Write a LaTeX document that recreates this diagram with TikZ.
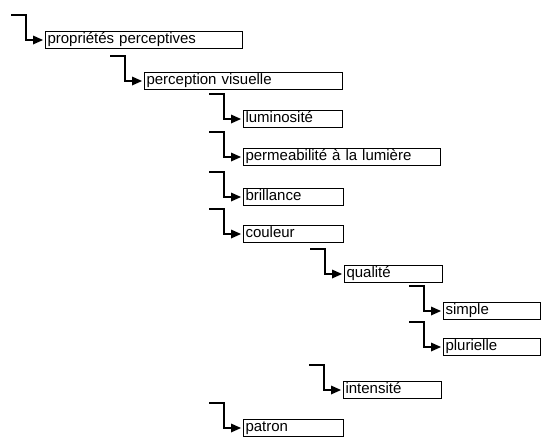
\documentclass[tikz,border=0pt]{standalone}
\usepackage{fontspec}
\setmainfont{Liberation Sans}

\begin{document}
\begin{tikzpicture}[x=1pt,y=1pt,
    box/.style={draw, rectangle, anchor=west, minimum height=17pt,
      inner xsep=2pt, inner ysep=0pt, text height=10pt, text depth=3pt,
      align=left, line width=1.1pt, font=\fontsize{15}{15}\selectfont},
    conn/.style={line width=1.6pt}]
  \useasboundingbox (0,0) rectangle (541,-437);
  % boxes
  \node[box, text width=193pt] (propr) at (45,-40)  {propriétés perceptives};
  \node[box, text width=194pt] (percv) at (144,-81) {perception visuelle};
  \node[box, text width=95pt]  (lumin) at (243,-119) {luminosité};
  \node[box, text width=193pt] (perme) at (243,-157) {permeabilité à la lumière};
  \node[box, text width=96pt]  (brill) at (243,-197) {brillance};
  \node[box, text width=96pt]  (coul)  at (243,-234) {couleur};
  \node[box, text width=94pt]  (qual)  at (344,-274) {qualité};
  \node[box, text width=93pt]  (simp)  at (443,-311) {simple};
  \node[box, text width=93pt]  (plur)  at (443,-347) {plurielle};
  \node[box, text width=94pt]  (inten) at (343,-390) {intensité};
  \node[box, text width=96pt]  (patr)  at (243,-428) {patron};
  % links
  \foreach \b in {propr, percv, lumin, perme, brill, coul, qual, simp, plur, inten, patr}
  {
    \coordinate (s\b) at ([shift={(-34pt,25pt)}]\b.west);
    \coordinate (k\b) at ([xshift=-19pt]\b.west);
    \coordinate (t\b) at ([xshift=-2pt]\b.west);
    \draw[conn] (s\b) -| (k\b) -- ([xshift=-6pt]t\b);
    \fill (t\b) -- ++(-10pt,4.5pt) -- ++(0,-9pt) -- cycle;
  }
\end{tikzpicture}
\end{document}
